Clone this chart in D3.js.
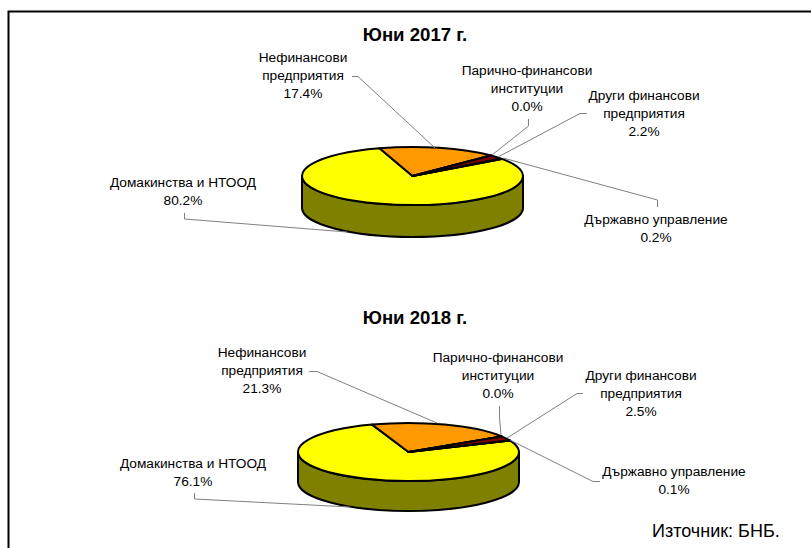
<!DOCTYPE html>
<html lang="bg">
<head>
<meta charset="UTF-8">
<title>Депозити по сектори</title>
<script src="https://d3js.org/d3.v7.min.js"></script>
<style>
    html, body { margin: 0; padding: 0; background: white; }
    svg { display: block; font-family: "Liberation Sans", Arial, sans-serif; }
    .label { font-size: 13.7px; fill: black; text-anchor: middle; }
    .title { font-size: 18.6px; font-weight: bold; text-anchor: middle; }
    .leader { fill: none; stroke: #808080; stroke-width: 1; }
    .slice, .side { stroke: black; stroke-width: 2; stroke-linejoin: round; vector-effect: non-scaling-stroke; }
</style>
</head>
<body>
<div id="chart"></div>
<script>
    var categories = ['Домакинства и НТООД', 'Нефинансови предприятия', 'Парично-финансови институции', 'Други финансови предприятия', 'Държавно управление'];
    var colors = ['#ffff00', '#ff9900', '#000000', '#800000', '#ff0000'];
    var values2017 = [80.2, 17.4, 0.0, 2.2, 0.2];
    var values2018 = [76.1, 21.3, 0.0, 2.5, 0.1];

    var width = 811, height = 548;
    var rx = 110.5, ry = 29;

    var svg = d3.select('#chart').append('svg')
        .attr('width', width)
        .attr('height', height);

    // frame, cut by the bottom of the picture
    svg.append('path')
        .attr('d', 'M8.5,548V11.5H811')
        .attr('fill', 'none')
        .attr('stroke', 'black')
        .attr('stroke-width', 2);

    // each label is placed by hand, like in the original Excel chart
    var charts = [
        {
            title: 'Юни 2017 г.', titleX: 415, titleY: 41, values: values2017,
            cx: 412.5, cy: 176, depth: 32, start: 53.9,
            labels: [
                {x: 183, y: 187, lines: ['Домакинства и НТООД', '80.2%']},
                {x: 303, y: 62, lines: ['Нефинансови', 'предприятия', '17.4%']},
                {x: 527, y: 75, lines: ['Парично-финансови', 'институции', '0.0%']},
                {x: 644, y: 100, lines: ['Други финансови', 'предприятия', '2.2%']},
                {x: 656, y: 224, lines: ['Държавно управление', '0.2%']}
            ],
            leaders: [
                [[184.5, 213], [184.5, 219], [347, 232]],
                [[352, 76.5], [358, 76.5], [435, 148]],
                [[528.5, 119], [528.5, 126], [492, 155]],
                [[587, 113.5], [580, 113.5], [498, 157]],
                [[657.5, 207], [657.5, 200], [503, 158]]
            ]
        },
        {
            title: 'Юни 2018 г.', titleX: 415, titleY: 324, values: values2018,
            cx: 408.5, cy: 452, depth: 30, start: 66.8,
            labels: [
                {x: 193, y: 468, lines: ['Домакинства и НТООД', '76.1%']},
                {x: 262, y: 357, lines: ['Нефинансови', 'предприятия', '21.3%']},
                {x: 498, y: 362, lines: ['Парично-финансови', 'институции', '0.0%']},
                {x: 641, y: 380, lines: ['Други финансови', 'предприятия', '2.5%']},
                {x: 674, y: 476, lines: ['Държавно управление', '0.1%']}
            ],
            leaders: [
                [[194.5, 493], [194.5, 499], [350, 507]],
                [[309, 371.5], [317, 371.5], [437, 423]],
                [[499.5, 406], [499.5, 418], [501, 435]],
                [[583, 393.5], [577, 393.5], [507, 438]],
                [[600, 481.5], [593, 481.5], [510, 440]]
            ]
        }
    ];

    var line = d3.line();

    charts.forEach(function(c) {
        var pie = d3.pie()
            .sort(null)
            .startAngle(c.start * Math.PI / 180)
            .endAngle((c.start + 360) * Math.PI / 180);

        var arc = d3.arc().innerRadius(0).outerRadius(rx);

        svg.append('text')
            .attr('class', 'title')
            .attr('x', c.titleX)
            .attr('y', c.titleY)
            .text(c.title);

        // wall of the cylinder, front half only
        svg.append('path')
            .attr('class', 'side')
            .attr('fill', '#808000')
            .attr('d', 'M' + (c.cx - rx) + ',' + c.cy +
                'A' + rx + ',' + ry + ' 0 0 0 ' + (c.cx + rx) + ',' + c.cy +
                'V' + (c.cy + c.depth) +
                'A' + rx + ',' + ry + ' 0 0 1 ' + (c.cx - rx) + ',' + (c.cy + c.depth) + 'Z');

        // top of the pie: a flat d3 arc squashed to an ellipse
        var top = svg.append('g')
            .attr('transform', 'translate(' + c.cx + ',' + c.cy + ') scale(1,' + (ry / rx) + ')');

        top.selectAll('path')
            .data(pie(c.values))
            .enter().append('path')
            .attr('class', 'slice')
            .attr('fill', function(d, i) { return colors[i]; })
            .attr('d', arc);

        svg.selectAll(null)
            .data(c.leaders)
            .enter().append('path')
            .attr('class', 'leader')
            .attr('d', line);

        c.labels.forEach(function(l) {
            var text = svg.append('text').attr('class', 'label');
            l.lines.forEach(function(s, i) {
                text.append('tspan')
                    .attr('x', l.x)
                    .attr('y', l.y + i * 18.2)
                    .text(s);
            });
        });
    });

    svg.append('text')
        .attr('x', 652)
        .attr('y', 537)
        .style('font-size', '18px')
        .text('Източник: БНБ.');
</script>
</body>
</html>
